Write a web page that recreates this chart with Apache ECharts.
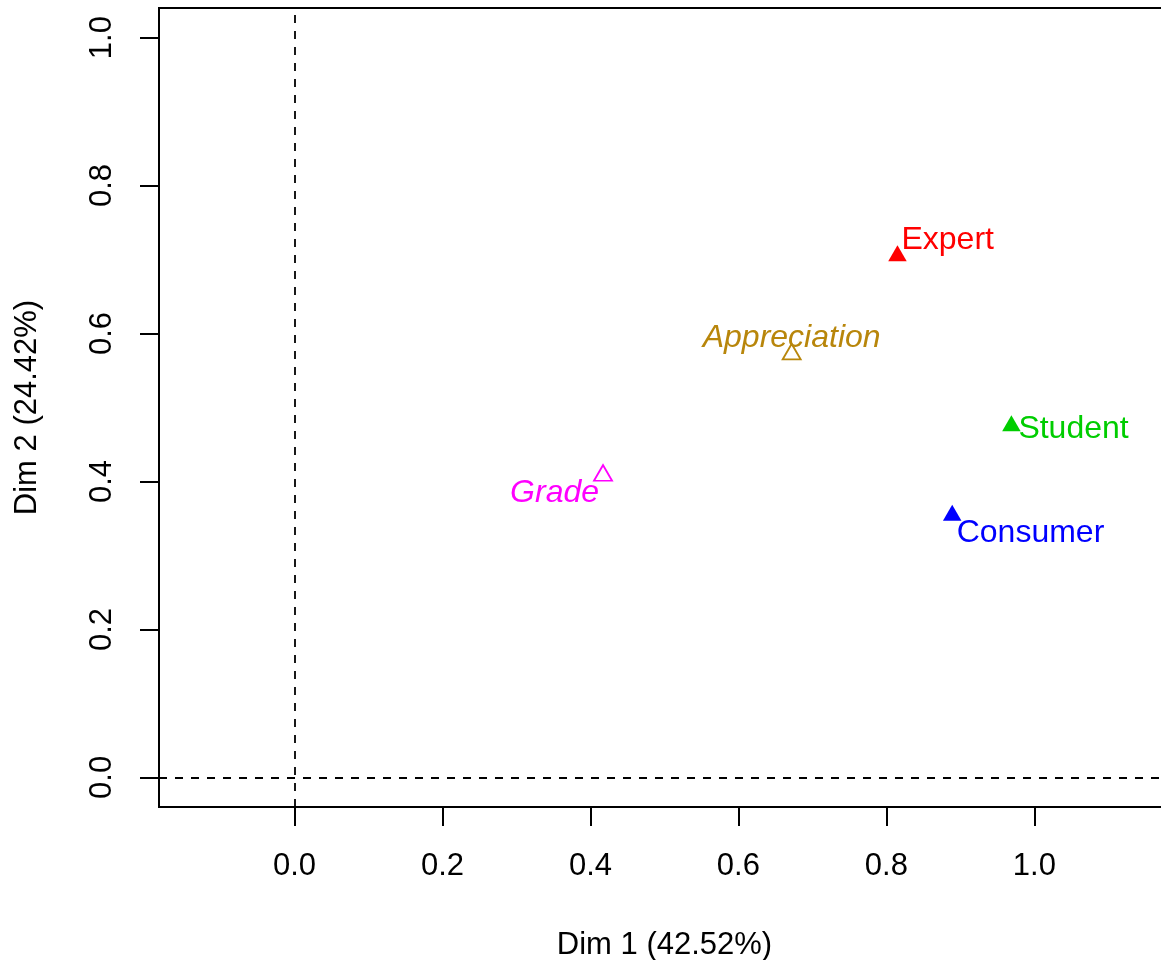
<!DOCTYPE html>
<html>
<head>
<meta charset="utf-8">
<script src="https://cdn.jsdelivr.net/npm/echarts@6/dist/echarts.min.js"></script>
<style>
html,body{margin:0;padding:0;background:#fff;}
#chart{width:1161px;height:960px;}
</style>
</head>
<body>
<div id="chart"></div>
<script>
// ---- data ----
var groups = ['Expert', 'Student', 'Consumer', 'Appreciation', 'Grade'];
var dim1 = [0.815, 0.969, 0.889, 0.672, 0.417];
var dim2 = [0.705, 0.475, 0.354, 0.572, 0.408];
var supplementary = [false, false, false, true, true];
var xTicks = [0.0, 0.2, 0.4, 0.6, 0.8, 1.0];
var yTicks = [0.0, 0.2, 0.4, 0.6, 0.8, 1.0];
var xTitle = 'Dim 1 (42.52%)';
var yTitle = 'Dim 2 (24.42%)';

// ---- styles ----
var colors = {
  Expert: '#FF0000', Student: '#00CD00', Consumer: '#0000FF',
  Appreciation: '#B8860B', Grade: '#FF00FF'
};
var labelPlace = {
  Expert: {align: 'left', offset: [4, -16]},
  Student: {align: 'left', offset: [7, 3.5]},
  Consumer: {align: 'left', offset: [4.5, 18]},
  Appreciation: {align: 'center', offset: [0, -16]},
  Grade: {align: 'right', offset: [-4, 17.5]}
};
var FONT = '"Liberation Sans", Arial, Helvetica, sans-serif';
var FS = 31;
var LFS = 32;

var activeData = [], suppData = [], labelData = [];
groups.forEach(function (g, i) {
  var pt = [dim1[i], dim2[i]];
  if (supplementary[i]) {
    suppData.push({value: pt, name: g,
      itemStyle: {color: 'rgba(0,0,0,0)', borderColor: colors[g], borderWidth: 1.8, opacity: 1}});
  } else {
    activeData.push({value: pt, name: g, itemStyle: {color: colors[g], opacity: 1}});
  }
  var lp = labelPlace[g];
  labelData.push({value: pt, name: g, label: {
    show: true, position: 'inside', formatter: g,
    color: colors[g], fontStyle: supplementary[i] ? 'italic' : 'normal',
    align: lp.align, verticalAlign: 'middle', offset: lp.offset,
    fontSize: LFS, fontFamily: FONT, opacity: 1
  }});
});

var chart = echarts.init(document.getElementById('chart'), null, {renderer: 'canvas'});
chart.setOption({
  animation: false,
  backgroundColor: '#ffffff',
  grid: {left: 159, top: 8, right: -9, bottom: 153, show: true,
         outerBoundsMode: 'none', containLabel: false,
         borderColor: '#000', borderWidth: 2, backgroundColor: 'transparent'},
  xAxis: {
    type: 'value', min: -0.1832, max: 1.1834,
    splitLine: {show: false},
    axisLine: {show: false, onZero: false},
    axisTick: {show: true, length: 19, lineStyle: {color: '#000', width: 2}, customValues: xTicks},
    axisLabel: {show: true, customValues: xTicks, margin: 43.5,
      formatter: function (v) { return v.toFixed(1); },
      color: '#000', fontSize: FS, fontFamily: FONT},
    name: xTitle, nameLocation: 'middle', nameGap: 122.5,
    nameTextStyle: {color: '#000', fontSize: FS, fontFamily: FONT}
  },
  yAxis: {
    type: 'value', min: -0.04, max: 1.04,
    splitLine: {show: false},
    axisLine: {show: false, onZero: false},
    axisTick: {show: true, length: 19, lineStyle: {color: '#000', width: 2}, customValues: yTicks},
    axisLabel: {show: true, customValues: yTicks, margin: 41.5, rotate: 90,
      formatter: function (v) { return v.toFixed(1); },
      color: '#000', fontSize: FS, fontFamily: FONT},
    name: yTitle, nameLocation: 'middle', nameGap: 116.5, nameRotate: 90,
    nameTextStyle: {color: '#000', fontSize: FS, fontFamily: FONT}
  },
  series: [
    {
      type: 'scatter', name: 'active', data: activeData,
      symbol: 'triangle', symbolSize: [18.5, 16], symbolOffset: [0, -2.7],
      itemStyle: {opacity: 1},
      z: 3,
      markLine: {
        silent: true, symbol: 'none', animation: false,
        label: {show: false},
        lineStyle: {color: '#000', width: 1.8, type: [8, 8], opacity: 1},
        data: [{xAxis: 0}, {yAxis: 0}]
      }
    },
    {
      type: 'scatter', name: 'supplementary', data: suppData,
      symbol: 'triangle', symbolSize: [18, 15.5], symbolOffset: [0, -2.6],
      itemStyle: {opacity: 1},
      z: 3
    },
    {
      type: 'scatter', name: 'labels', data: labelData,
      symbol: 'circle', symbolSize: 1, itemStyle: {color: 'rgba(0,0,0,0)', opacity: 1},
      z: 4, silent: true
    }
  ]
});
</script>
</body>
</html>
